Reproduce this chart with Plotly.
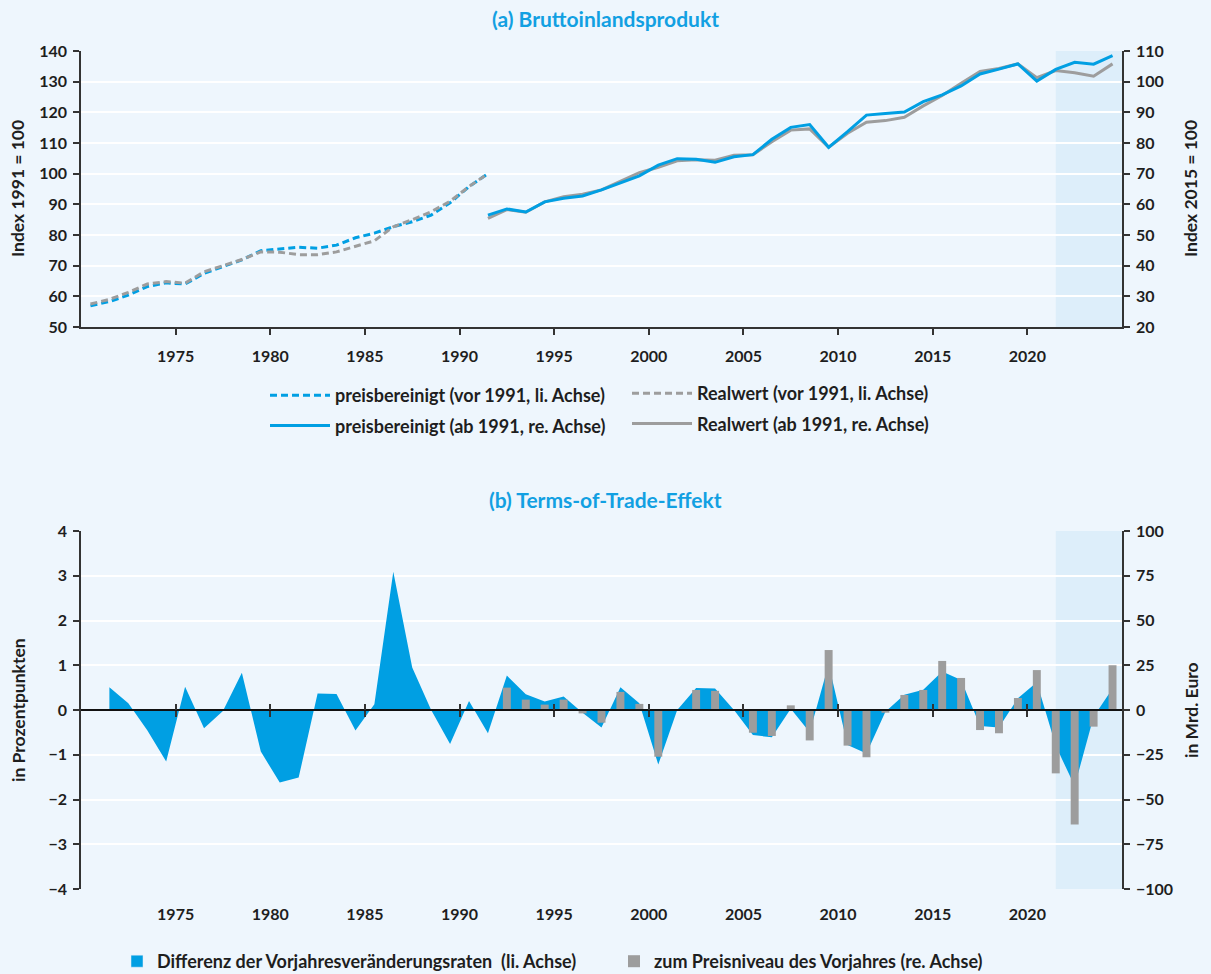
import plotly.graph_objects as go

# ---------------- data ----------------
# (a) Bruttoinlandsprodukt
years_pre = list(range(1970, 1992))
bip_preis_vor1991 = [56.9, 58.3, 60.4, 63.2, 64.4, 64.0, 67.5, 69.7, 71.9, 74.9, 75.5,
                     76.0, 75.7, 76.7, 79.1, 80.6, 82.7, 84.3, 86.5, 90.5, 95.8, 100.0]
bip_real_vor1991 = [57.5, 59.0, 61.3, 64.0, 64.8, 64.3, 68.0, 69.9, 72.0, 74.5, 74.4,
                    73.6, 73.6, 74.5, 76.4, 78.1, 82.7, 85.0, 87.6, 91.0, 95.8, 100.0]

years_post = list(range(1991, 2025))
bip_preis_ab1991 = [56.5, 58.5, 57.5, 60.8, 62.0, 62.7, 64.7, 67.1, 69.3, 72.8, 74.9,
                    74.7, 73.7, 75.5, 76.2, 81.2, 85.1, 86.0, 78.6, 83.7, 89.1, 89.6,
                    90.1, 93.5, 95.7, 98.6, 102.5, 104.1, 105.8, 100.2, 104.0, 106.3,
                    105.7, 108.5]
bip_real_ab1991 = [55.4, 58.3, 57.4, 60.8, 62.5, 63.3, 64.7, 67.6, 70.3, 72.1, 74.2,
                   74.5, 74.4, 76.0, 76.2, 80.4, 84.2, 84.6, 78.6, 83.2, 86.8, 87.3,
                   88.4, 92.1, 95.5, 99.5, 103.3, 104.3, 105.8, 101.3, 103.6, 102.9,
                   101.8, 105.8]

# (b) Terms-of-Trade-Effekt
years_diff = list(range(1971, 2025))
tot_differenz = [0.51, 0.15, -0.45, -1.15, 0.52, -0.41, -0.02, 0.83, -0.93, -1.62,
                 -1.51, 0.37, 0.36, -0.46, 0.13, 3.09, 0.95, 0.0, -0.76, 0.20,
                 -0.52, 0.77, 0.35, 0.19, 0.30, -0.06, -0.39, 0.51, 0.15, -1.22,
                 0.0, 0.49, 0.48, 0.0, -0.56, -0.61, 0.03, -0.50, 1.02, -0.78,
                 -0.97, -0.04, 0.34, 0.45, 0.86, 0.67, -0.36, -0.39, 0.26, 0.62,
                 -0.80, -1.70, -0.15, 0.48]

years_bar = list(range(1992, 2025))
tot_mrd_euro = [12.5, 5.8, 3.0, 5.8, -1.9, -7.1, 10.1, 3.4, -26.1, 0.0, 11.2,
                10.7, 0.0, -12.7, -14.5, 2.6, -17.0, 33.5, -19.9, -26.4, -1.5,
                8.4, 11.2, 27.4, 17.9, -11.2, -13.0, 6.7, 22.3, -35.4, -63.9,
                -9.3, 25.0]

tick_years = [1975, 1980, 1985, 1990, 1995, 2000, 2005, 2010, 2015, 2020]
x_range = [1970, 2025]
forecast_from = 2021.5

# ---------------- style ----------------
BLUE = "#009FE3"
GRAY = "#9D9D9D"
BG = "#EEF6FD"
SHADE = "#DDEEFA"
AXIS = "#333333"
TEXT = "#1E1E1E"
TITLE = "#12A0E2"
FONT = "Lato"

W, H = 1211, 974
X0, X1 = 81 / W, 1122 / W
TOP_Y0, TOP_Y1 = 1 - 327 / H, 1 - 51 / H
BOT_Y0, BOT_Y1 = 1 - 889 / H, 1 - 531 / H
ZERO_POS = BOT_Y0 + (BOT_Y1 - BOT_Y0) * 0.5

tickfont = dict(family=FONT, size=16, color=TEXT, weight=700)
legendfont = dict(family=FONT, size=18, color=TEXT, weight=700)


def mid(years):
    # annual values sit in the middle of their year
    return [y + 0.5 for y in years]


fig = go.Figure()

# ---- panel (a) ----
fig.add_trace(go.Scatter(
    x=mid(years_pre), y=bip_preis_vor1991, mode="lines",
    name="preisbereinigt (vor 1991, li. Achse)",
    line=dict(color=BLUE, width=3, dash="7px,4px"),
    xaxis="x", yaxis="y", legend="legend", legendgroup="a1"))
fig.add_trace(go.Scatter(
    x=mid(years_pre), y=bip_real_vor1991, mode="lines",
    name="Realwert (vor 1991, li. Achse)",
    line=dict(color=GRAY, width=3, dash="7px,4px"),
    xaxis="x", yaxis="y", legend="legend2", legendgroup="b1"))
fig.add_trace(go.Scatter(
    x=mid(years_post), y=bip_real_ab1991, mode="lines",
    name="Realwert (ab 1991, re. Achse)",
    line=dict(color=GRAY, width=3),
    xaxis="x", yaxis="y2", legend="legend2", legendgroup="b2"))
fig.add_trace(go.Scatter(
    x=mid(years_post), y=bip_preis_ab1991, mode="lines",
    name="preisbereinigt (ab 1991, re. Achse)",
    line=dict(color=BLUE, width=3),
    xaxis="x", yaxis="y2", legend="legend", legendgroup="a2"))

# ---- panel (b) ----
fig.add_trace(go.Scatter(
    x=mid(years_diff), y=tot_differenz, mode="lines", fill="tozeroy",
    fillcolor=BLUE, line=dict(width=0, color=BLUE), showlegend=False,
    xaxis="x2", yaxis="y3"))
fig.add_trace(go.Bar(
    x=[None], y=[None], marker_color=BLUE,
    name="Differenz der Vorjahresveränderungsraten  (li. Achse)",
    xaxis="x2", yaxis="y3", legend="legend3"))
fig.add_trace(go.Bar(
    x=mid(years_bar), y=tot_mrd_euro, width=0.42, marker_color=GRAY,
    marker_line_width=0, name="zum Preisniveau des Vorjahres (re. Achse)",
    xaxis="x2", yaxis="y4", legend="legend3"))
# carriers for the zero-line axis of panel (b)
fig.add_trace(go.Scatter(x=[None], y=[None], mode="lines", showlegend=False,
                         hoverinfo="skip", xaxis="x4", yaxis="y3"))
fig.add_trace(go.Scatter(x=[None], y=[None], mode="lines", showlegend=False,
                         hoverinfo="skip", xaxis="x5", yaxis="y3"))

tick_common = dict(ticklen=6, tickwidth=1.5, tickcolor=AXIS)
twin_common = dict(showgrid=False, zeroline=False, showticklabels=False,
                   showline=False, ticks="inside", ticklen=6, tickwidth=1.5,
                   tickcolor=AXIS)

fig.update_layout(
    width=W, height=H,
    margin=dict(l=0, r=0, t=0, b=0, autoexpand=False),
    paper_bgcolor=BG, plot_bgcolor=BG,
    font=dict(family=FONT, color=TEXT),
    showlegend=True,
    barmode="overlay",
    # panel (a) axes
    xaxis=dict(domain=[X0, X1], anchor="y", range=x_range, tickmode="array",
               tickvals=tick_years, ticks="outside", showline=True,
               linecolor=AXIS, linewidth=2, showgrid=False, zeroline=False,
               tickfont=tickfont, ticklabelstandoff=8, **tick_common),
    yaxis=dict(domain=[TOP_Y0, TOP_Y1], anchor="x", range=[50, 140], dtick=10,
               showgrid=True, gridcolor="white", gridwidth=1.5, zeroline=False,
               showline=True, linecolor=AXIS, linewidth=1.5, ticks="outside",
               tickfont=tickfont, ticklabelstandoff=3, **tick_common),
    yaxis2=dict(overlaying="y", side="right", anchor="x", range=[20, 110],
                dtick=10, showgrid=False, zeroline=False, showline=True,
                linecolor=AXIS, linewidth=1.5, ticks="outside",
                tickfont=tickfont, ticklabelstandoff=3, **tick_common),
    xaxis3=dict(overlaying="x", anchor="y", range=x_range, tickmode="array",
                tickvals=tick_years, **twin_common),
    yaxis5=dict(overlaying="y", side="left", anchor="x", range=[50, 140],
                dtick=10, **twin_common),
    yaxis6=dict(overlaying="y", side="right", anchor="x", range=[20, 110],
                dtick=10, **twin_common),
    # panel (b) axes
    xaxis2=dict(domain=[X0, X1], anchor="y3", range=x_range, tickmode="array",
                tickvals=tick_years, ticks="", showline=False, showgrid=False,
                zeroline=False, tickfont=tickfont, ticklabelstandoff=14),
    yaxis3=dict(domain=[BOT_Y0, BOT_Y1], anchor="x2", range=[-4, 4], dtick=1,
                showgrid=True, gridcolor="white", gridwidth=1.5, zeroline=False,
                showline=True, linecolor=AXIS, linewidth=1.5, ticks="outside",
                tickfont=tickfont, ticklabelstandoff=3, **tick_common),
    yaxis4=dict(overlaying="y3", side="right", anchor="x2", range=[-100, 100],
                dtick=25, showgrid=False, zeroline=False, showline=True,
                linecolor=AXIS, linewidth=1.5, ticks="outside",
                tickfont=tickfont, ticklabelstandoff=3, **tick_common),
    yaxis7=dict(overlaying="y3", side="left", anchor="x2", range=[-4, 4],
                dtick=1, **twin_common),
    yaxis8=dict(overlaying="y3", side="right", anchor="x2", range=[-100, 100],
                dtick=25, **twin_common),
    xaxis4=dict(overlaying="x2", anchor="free", position=ZERO_POS, range=x_range,
                tickmode="array", tickvals=tick_years, ticks="outside",
                showline=True, linecolor="#111111", linewidth=2,
                showticklabels=False, showgrid=False, zeroline=False,
                **tick_common),
    xaxis5=dict(overlaying="x2", anchor="free", position=ZERO_POS, range=x_range,
                tickmode="array", tickvals=tick_years, **twin_common),
    # legends
    legend=dict(x=265 / W, y=1 - 377 / H, xanchor="left", yanchor="top",
                bgcolor="rgba(0,0,0,0)", font=legendfont, itemwidth=60,
                tracegroupgap=4, traceorder="grouped"),
    legend2=dict(x=627 / W, y=1 - 375 / H, xanchor="left", yanchor="top",
                 bgcolor="rgba(0,0,0,0)", font=legendfont, itemwidth=60,
                 tracegroupgap=4, traceorder="grouped"),
    legend3=dict(x=117 / W, y=1 - 943 / H, xanchor="left", yanchor="top",
                 orientation="h", entrywidth=452, entrywidthmode="pixels",
                 bgcolor="rgba(0,0,0,0)", font=legendfont),
)

# forecast shading
for yref in ("y", "y3"):
    fig.add_shape(type="rect", xref="x" if yref == "y" else "x2",
                  yref=f"{yref} domain", x0=forecast_from, x1=x_range[1],
                  y0=0, y1=1, fillcolor=SHADE, line_width=0, layer="below")

# titles and axis titles
ann = [
    dict(text="(a) Bruttoinlandsprodukt", x=0.5, y=1 - 19 / H,
         font=dict(size=21, color=TITLE, weight=700)),
    dict(text="(b) Terms-of-Trade-Effekt", x=0.5, y=1 - 500 / H,
         font=dict(size=21, color=TITLE, weight=700)),
    dict(text="Index 1991 = 100", x=18 / W, y=(TOP_Y0 + TOP_Y1) / 2,
         textangle=-90, font=dict(size=17.5, color=TEXT, weight=700)),
    dict(text="Index 2015 = 100", x=1191 / W, y=(TOP_Y0 + TOP_Y1) / 2,
         textangle=-90, font=dict(size=17.5, color=TEXT, weight=700)),
    dict(text="in Prozentpunkten", x=18 / W, y=(BOT_Y0 + BOT_Y1) / 2,
         textangle=-90, font=dict(size=17.5, color=TEXT, weight=700)),
    dict(text="in Mrd. Euro", x=1191 / W, y=(BOT_Y0 + BOT_Y1) / 2,
         textangle=-90, font=dict(size=17.5, color=TEXT, weight=700)),
]
for a in ann:
    a.update(xref="paper", yref="paper", showarrow=False,
             xanchor="center", yanchor="middle")
    a["font"]["family"] = FONT
    fig.add_annotation(**a)

fig.write_html("out.html")
